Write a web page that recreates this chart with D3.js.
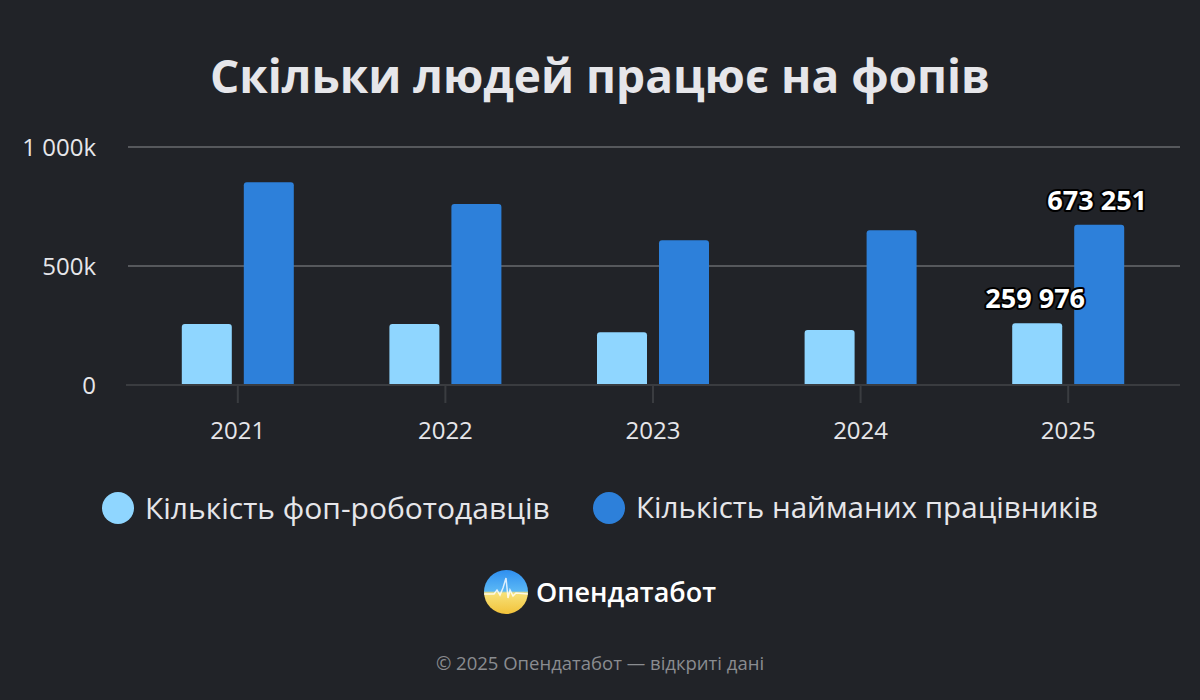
<!DOCTYPE html>
<html>
<head>
<meta charset="utf-8">
<script src="https://cdn.jsdelivr.net/npm/d3@7"></script>
<style>
  html, body { margin: 0; padding: 0; background: #212328; }
  svg { display: block; font-family: "Open Sans", "Noto Sans", sans-serif; }
</style>
</head>
<body>
<div id="chart"></div>
<script>
var years = ['2021', '2022', '2023', '2024', '2025'];
var employers = [256000, 256000, 222000, 231000, 259976];
var employees = [852000, 760000, 608000, 650000, 673251];
var yTicks = [0, 500000, 1000000];
var seriesNames = ['Кількість фоп-роботодавців', 'Кількість найманих працівників'];
var colors = ['#8fd6ff', '#2d80da'];

var W = 1200, H = 700;

var svg = d3.select('#chart')
    .append('svg')
    .attr('width', W)
    .attr('height', H);

svg.append('rect')
    .attr('width', W)
    .attr('height', H)
    .attr('fill', '#212328');

// title
svg.append('text')
    .attr('x', 600)
    .attr('y', 93)
    .attr('text-anchor', 'middle')
    .attr('font-size', 46)
    .attr('font-weight', 700)
    .attr('fill', '#e6e6ea')
    .text('Скільки людей працює на фопів');

var x = d3.scaleBand()
    .domain(years)
    .range([134, 1172]);

var y = d3.scaleLinear()
    .domain([0, 1000000])
    .range([385, 147]);

var formatTick = function(v) {
	if (v === 0) return '0';
	var k = v / 1000;
	return d3.format(',')(k).replace(/,/g, ' ') + 'k';
};

// gridlines
svg.append('g')
    .selectAll('line')
    .data(yTicks.filter(function(d) { return d > 0; }))
    .join('line')
    .attr('x1', 128)
    .attr('x2', 1180)
    .attr('y1', function(d) { return y(d); })
    .attr('y2', function(d) { return y(d); })
    .attr('stroke', '#56585c')
    .attr('stroke-width', 2);

svg.append('g')
    .selectAll('text')
    .data(yTicks)
    .join('text')
    .attr('x', 96)
    .attr('y', function(d) { return y(d); })
    .attr('dy', '0.36em')
    .attr('text-anchor', 'end')
    .attr('font-size', 24)
    .attr('fill', '#e6e6ea')
    .text(formatTick);

// bars
var half = x.bandwidth() / 2;
var inner = d3.scaleBand()
    .domain([0, 1])
    .range([half - 56, half + 56])
    .paddingInner(12 / 62);

var rows = years.map(function(yr, i) {
	return { year: yr, vals: [employers[i], employees[i]] };
});

var groups = svg.append('g')
    .selectAll('g')
    .data(rows)
    .join('g')
    .attr('transform', function(d) { return 'translate(' + x(d.year) + ',0)'; });

groups.selectAll('path')
    .data(function(d) { return d.vals.map(function(v, j) { return { v: v, j: j }; }); })
    .join('path')
    .attr('fill', function(d) { return colors[d.j]; })
    .attr('d', function(d) {
	    var x0 = inner(d.j), w = inner.bandwidth();
	    var top = y(d.v), bot = y(0) - 1, r = 3;
	    return 'M' + x0 + ',' + bot +
	        'V' + (top + r) +
	        'Q' + x0 + ',' + top + ' ' + (x0 + r) + ',' + top +
	        'H' + (x0 + w - r) +
	        'Q' + (x0 + w) + ',' + top + ' ' + (x0 + w) + ',' + (top + r) +
	        'V' + bot + 'Z';
    });

// x axis line & ticks
svg.append('line')
    .attr('x1', 126)
    .attr('x2', 1180)
    .attr('y1', 385)
    .attr('y2', 385)
    .attr('stroke', '#3a3c40')
    .attr('stroke-width', 2);

svg.append('g')
    .selectAll('line')
    .data(years)
    .join('line')
    .attr('x1', function(d) { return x(d) + half; })
    .attr('x2', function(d) { return x(d) + half; })
    .attr('y1', 385)
    .attr('y2', 403)
    .attr('stroke', '#3a3c40')
    .attr('stroke-width', 2);

svg.append('g')
    .selectAll('text')
    .data(years)
    .join('text')
    .attr('x', function(d) { return x(d) + half; })
    .attr('y', 439)
    .attr('text-anchor', 'middle')
    .attr('font-size', 24)
    .attr('fill', '#e6e6ea')
    .text(function(d) { return d; });

// value labels for last year
var last = rows[rows.length - 1];
var fmtVal = function(v) { return d3.format(',')(v).replace(/,/g, ' '); };
svg.append('g')
    .selectAll('text')
    .data(last.vals.map(function(v, j) { return { v: v, j: j }; }))
    .join('text')
    .attr('x', function(d) { return x(last.year) + inner(d.j) + inner.bandwidth() / 2 - 2; })
    .attr('y', function(d) { return y(d.v) - 15; })
    .attr('text-anchor', 'middle')
    .attr('font-size', 27)
    .attr('font-weight', 700)
    .attr('fill', '#ffffff')
    .attr('stroke', '#000000')
    .attr('stroke-width', 4)
    .attr('stroke-linejoin', 'round')
    .attr('paint-order', 'stroke')
    .text(function(d) { return fmtVal(d.v); });

// legend
var legendX = [118, 609];
var leg = svg.append('g')
    .selectAll('g')
    .data(seriesNames)
    .join('g')
    .attr('transform', function(d, i) { return 'translate(' + legendX[i] + ',508)'; });

leg.append('circle')
    .attr('r', 16)
    .attr('fill', function(d, i) { return colors[i]; });

leg.append('text')
    .attr('x', 27)
    .attr('dy', '0.35em')
    .attr('font-size', function(d, i) { return i === 0 ? 30 : 29.6; })
    .attr('fill', '#e6e6ea')
    .text(function(d) { return d; });

// logo
var defs = svg.append('defs');
var grad = defs.append('linearGradient')
    .attr('id', 'logoGrad')
    .attr('x1', 0).attr('y1', 0).attr('x2', 0).attr('y2', 1);
grad.append('stop').attr('offset', '0%').attr('stop-color', '#2f8ff0');
grad.append('stop').attr('offset', '48%').attr('stop-color', '#5bb8f5');
grad.append('stop').attr('offset', '52%').attr('stop-color', '#f7e27a');
grad.append('stop').attr('offset', '100%').attr('stop-color', '#f2c23a');

var logo = svg.append('g').attr('transform', 'translate(506,592)');
logo.append('circle')
    .attr('r', 22)
    .attr('fill', 'url(#logoGrad)');
var wave = [[-22, 2], [-12, 2], [-9, -2], [-6, 3], [-3, -4], [0, -14], [2, 6], [4, -2], [7, 4], [10, 1], [22, 2]];
logo.append('path')
    .attr('d', d3.line()(wave))
    .attr('fill', 'none')
    .attr('stroke', '#ffffff')
    .attr('stroke-opacity', 0.8)
    .attr('stroke-width', 1.5);

svg.append('text')
    .attr('x', 536)
    .attr('y', 602)
    .attr('font-size', 27)
    .attr('font-weight', 600)
    .attr('fill', '#ffffff')
    .text('Опендатабот');

// footer
svg.append('text')
    .attr('x', 600)
    .attr('y', 670)
    .attr('text-anchor', 'middle')
    .attr('font-size', 18.5)
    .attr('fill', '#8a8c90')
    .text('© 2025 Опендатабот — відкриті дані');
</script>
</body>
</html>
